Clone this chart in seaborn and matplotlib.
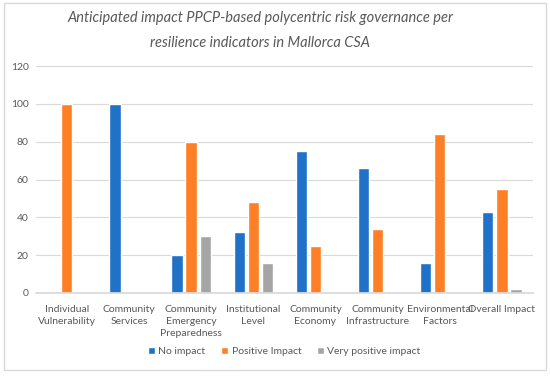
import matplotlib
matplotlib.use("Agg")
import matplotlib.pyplot as plt
import seaborn as sns
import pandas as pd
from matplotlib.patches import Rectangle

categories = ["Individual\nVulnerability", "Community\nServices", "Community\nEmergency\nPreparedness",
              "Institutional\nLevel", "Community\nEconomy", "Community\nInfrastructure",
              "Environmental\nFactors", "Overall Impact"]
series = ["No impact", "Positive Impact", "Very positive impact"]
no_impact = [0, 100, 20, 32, 75, 66, 16, 43]
positive_impact = [100, 0, 80, 48, 25, 34, 84, 55]
very_positive = [0, 0, 30, 16, 0, 0, 0, 2]
yticks = [0, 20, 40, 60, 80, 100, 120]

rows = []
for s, vals in zip(series, [no_impact, positive_impact, very_positive]):
    for c, v in zip(categories, vals):
        rows.append({"category": c, "series": s, "value": v})
df = pd.DataFrame(rows)

sns.set_theme(style="white")
plt.rcParams["font.family"] = ["Lato", "DejaVu Sans"]

fig = plt.figure(figsize=(5.5, 3.76), dpi=100)
ax = fig.add_axes([0.065, 0.221, 0.904, 0.603])
palette = ["#1F72C8", "#FF7F27", "#A5A5A5"]
sns.barplot(data=df, x="category", y="value", hue="series", palette=palette,
            width=0.68, gap=0.2, ax=ax, legend=True, saturation=1)

ax.set_ylim(0, 120)
ax.set_yticks(yticks)
ax.set_xlim(-0.5, len(categories) - 0.5)
ax.set_xlabel("")
ax.set_ylabel("")
ax.yaxis.grid(True, color="#D9D9D9", linewidth=0.8)
ax.set_axisbelow(True)
for sp in ["top", "left", "right"]:
    ax.spines[sp].set_visible(False)
ax.spines["bottom"].set_color("#D9D9D9")
ax.tick_params(axis="both", length=0, colors="#595959", labelsize=7.5)
ax.tick_params(axis="x", pad=8.5)
ax.tick_params(axis="y", pad=5)
for lbl in ax.get_xticklabels():
    lbl.set_linespacing(1.42)

leg = ax.legend(loc="center", bbox_to_anchor=(0.5, -0.258), ncol=3, frameon=False,
                fontsize=7.5, handlelength=0.7, handleheight=0.7, handletextpad=0.3,
                columnspacing=1.5, labelcolor="#595959")

fig.text(0.473, 0.953, "Anticipated impact PPCP-based polycentric risk governance per",
         ha="center", va="center", style="italic", fontsize=10.5, color="#595959")
fig.text(0.473, 0.885, "resilience indicators in Mallorca CSA",
         ha="center", va="center", style="italic", fontsize=10.5, color="#595959")

fig.patches.append(Rectangle((4 / 550, 6 / 376), 542 / 550, 367 / 376, transform=fig.transFigure,
                             fill=False, edgecolor="#D9D9D9", linewidth=1))

fig.savefig("out.png", dpi=100)
